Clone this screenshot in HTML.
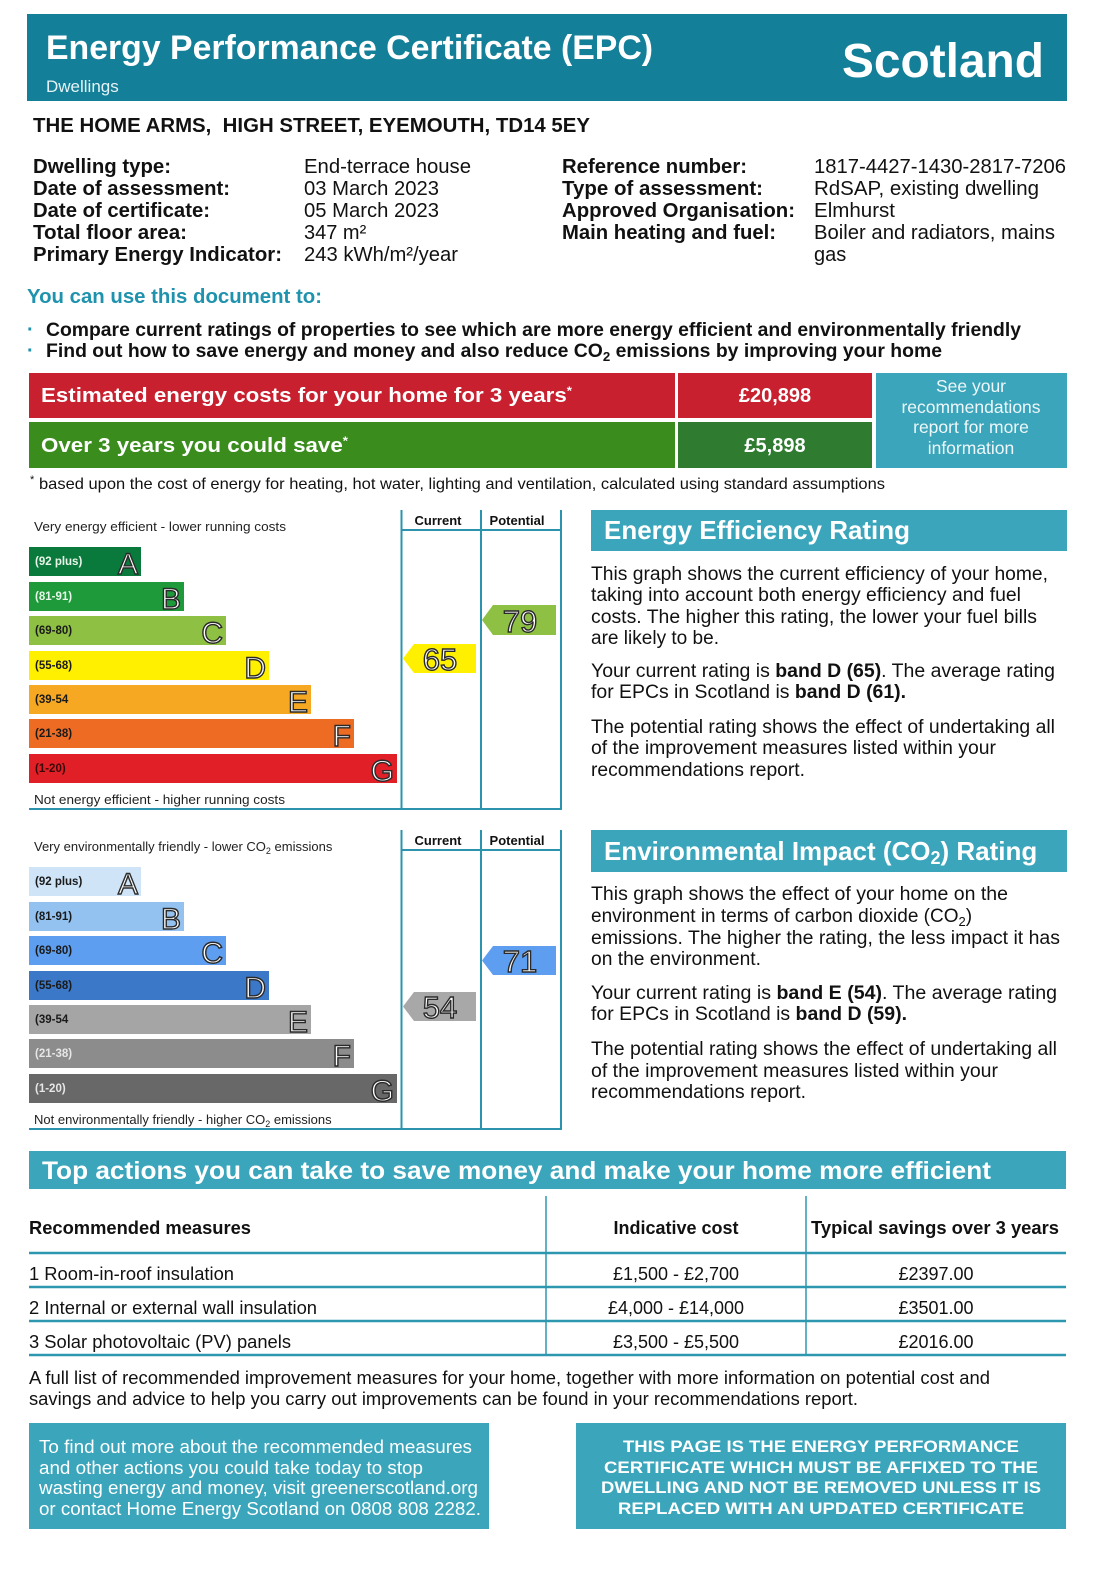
<!DOCTYPE html>
<html><head><meta charset="utf-8"><title>EPC Scotland</title>
<style>
html,body{margin:0;padding:0;background:#fff;}
svg{display:block;}
text{font-family:"Liberation Sans",Arial,Helvetica,sans-serif;}
.b{font-weight:bold;}
.lt{fill:#fff;stroke:#2a2a2a;stroke-width:1.4;}
</style></head><body>
<svg width="1108" height="1571" viewBox="0 0 1108 1571" xmlns="http://www.w3.org/2000/svg">
<rect width="1108" height="1571" fill="#fff"/>

<!-- Header -->
<rect x="27" y="14" width="1040" height="87" fill="#137f98"/>
<text x="46" y="59" font-size="34" class="b" fill="#fff" textLength="607" lengthAdjust="spacingAndGlyphs">Energy Performance Certificate (EPC)</text>
<text x="46" y="92" font-size="17" fill="#e6f3f6">Dwellings</text>
<text x="842" y="77" font-size="48" class="b" fill="#fff" textLength="202" lengthAdjust="spacingAndGlyphs">Scotland</text>

<!-- Address -->
<text x="33" y="132" font-size="20" class="b" fill="#111" textLength="557" lengthAdjust="spacingAndGlyphs">THE HOME ARMS,&#160; HIGH STREET, EYEMOUTH, TD14 5EY</text>

<!-- Details -->
<g font-size="20" fill="#111">
<text x="33" y="173" class="b" textLength="138" lengthAdjust="spacingAndGlyphs">Dwelling type:</text>
<text x="33" y="195" class="b" textLength="197" lengthAdjust="spacingAndGlyphs">Date of assessment:</text>
<text x="33" y="217" class="b" textLength="177" lengthAdjust="spacingAndGlyphs">Date of certificate:</text>
<text x="33" y="239" class="b" textLength="154" lengthAdjust="spacingAndGlyphs">Total floor area:</text>
<text x="33" y="261" class="b" textLength="249" lengthAdjust="spacingAndGlyphs">Primary Energy Indicator:</text>
<text x="304" y="173" textLength="167" lengthAdjust="spacingAndGlyphs">End-terrace house</text>
<text x="304" y="195" textLength="135" lengthAdjust="spacingAndGlyphs">03 March 2023</text>
<text x="304" y="217" textLength="135" lengthAdjust="spacingAndGlyphs">05 March 2023</text>
<text x="304" y="239">347 m²</text>
<text x="304" y="261" textLength="154" lengthAdjust="spacingAndGlyphs">243 kWh/m²/year</text>
<text x="562" y="173" class="b" textLength="185" lengthAdjust="spacingAndGlyphs">Reference number:</text>
<text x="562" y="195" class="b" textLength="201" lengthAdjust="spacingAndGlyphs">Type of assessment:</text>
<text x="562" y="217" class="b" textLength="233" lengthAdjust="spacingAndGlyphs">Approved Organisation:</text>
<text x="562" y="239" class="b" textLength="214" lengthAdjust="spacingAndGlyphs">Main heating and fuel:</text>
<text x="814" y="173" textLength="252" lengthAdjust="spacingAndGlyphs">1817-4427-1430-2817-7206</text>
<text x="814" y="195" textLength="225" lengthAdjust="spacingAndGlyphs">RdSAP, existing dwelling</text>
<text x="814" y="217" textLength="81" lengthAdjust="spacingAndGlyphs">Elmhurst</text>
<text x="814" y="239" textLength="241" lengthAdjust="spacingAndGlyphs">Boiler and radiators, mains</text>
<text x="814" y="261">gas</text>
</g>

<!-- You can use -->
<text x="27" y="303" font-size="20" class="b" fill="#1f93ad" textLength="295" lengthAdjust="spacingAndGlyphs">You can use this document to:</text>
<text x="27" y="336" font-size="20" class="b" fill="#1f93ad">·</text>
<text x="27" y="357" font-size="20" class="b" fill="#1f93ad">·</text>
<text x="46" y="336" font-size="19" class="b" fill="#111" textLength="975" lengthAdjust="spacingAndGlyphs">Compare current ratings of properties to see which are more energy efficient and environmentally friendly</text>
<text x="46" y="357" font-size="19" class="b" fill="#111" textLength="896" lengthAdjust="spacingAndGlyphs">Find out how to save energy and money and also reduce CO<tspan font-size="13" dy="4">2</tspan><tspan dy="-4"> emissions by improving your home</tspan></text>

<!-- Cost boxes -->
<rect x="29" y="373" width="646" height="45" fill="#c8202f"/>
<rect x="678" y="373" width="194" height="45" fill="#c8202f"/>
<rect x="29" y="422" width="646" height="46" fill="#3a8d1d"/>
<rect x="678" y="422" width="194" height="46" fill="#2f7c30"/>
<rect x="876" y="373" width="191" height="95" fill="#3aa5bb"/>
<text x="41" y="402" font-size="20" class="b" fill="#fff" textLength="531" lengthAdjust="spacingAndGlyphs">Estimated energy costs for your home for 3 years<tspan font-size="12" dy="-7">*</tspan></text>
<text x="41" y="452" font-size="20" class="b" fill="#fff" textLength="307" lengthAdjust="spacingAndGlyphs">Over 3 years you could save<tspan font-size="12" dy="-7">*</tspan></text>
<text x="775" y="402" font-size="20" class="b" fill="#fff" text-anchor="middle">£20,898</text>
<text x="775" y="452" font-size="20" class="b" fill="#fff" text-anchor="middle">£5,898</text>
<g font-size="17.5" fill="#eef7f9" text-anchor="middle">
<text x="971" y="392">See your</text>
<text x="971" y="413">recommendations</text>
<text x="971" y="433">report for more</text>
<text x="971" y="454">information</text>
</g>
<text x="30" y="483" font-size="11" fill="#111">*</text>
<text x="39" y="489" font-size="16" fill="#111" textLength="846" lengthAdjust="spacingAndGlyphs">based upon the cost of energy for heating, hot water, lighting and ventilation, calculated using standard assumptions</text>

<!-- ENERGY CHART -->
<g>
<text x="34" y="531" font-size="13" fill="#222" textLength="252" lengthAdjust="spacingAndGlyphs">Very energy efficient - lower running costs</text>
<text x="438" y="525" font-size="13" class="b" fill="#111" text-anchor="middle">Current</text>
<text x="517" y="525" font-size="13" class="b" fill="#111" text-anchor="middle">Potential</text>
<g stroke="#2b93ad" stroke-width="2" fill="none">
<line x1="401.5" y1="510" x2="401.5" y2="809"/>
<line x1="481" y1="510" x2="481" y2="809"/>
<line x1="561" y1="510" x2="561" y2="809"/>
<line x1="401" y1="530" x2="561" y2="530"/>
<line x1="29" y1="809" x2="562" y2="809"/>
</g>
<rect x="29" y="547" width="112" height="29" fill="#0a7a3c"/>
<rect x="29" y="582" width="155" height="29" fill="#1f9a3a"/>
<rect x="29" y="616" width="197" height="29" fill="#8dc043"/>
<rect x="29" y="651" width="240" height="29" fill="#fff000"/>
<rect x="29" y="685" width="282" height="29" fill="#f6a823"/>
<rect x="29" y="719" width="325" height="29" fill="#ee6b24"/>
<rect x="29" y="754" width="368" height="29" fill="#e11f27"/>
<g font-size="11.5" class="b">
<text x="35" y="565" fill="#e8f5ea">(92 plus)</text>
<text x="35" y="600" fill="#e8f5ea">(81-91)</text>
<text x="35" y="634" fill="#1a1a1a">(69-80)</text>
<text x="35" y="669" fill="#1a1a1a">(55-68)</text>
<text x="35" y="703" fill="#1a1a1a">(39-54</text>
<text x="35" y="737" fill="#1a1a1a">(21-38)</text>
<text x="35" y="772" fill="#3a0a0a">(1-20)</text>
</g>
<g font-size="30" class="lt" text-anchor="end">
<text x="138" y="574">A</text>
<text x="181" y="609">B</text>
<text x="223" y="643">C</text>
<text x="266" y="678">D</text>
<text x="308" y="712">E</text>
<text x="351" y="746">F</text>
<text x="394" y="781">G</text>
</g>
<text x="34" y="804" font-size="13" fill="#222" textLength="251" lengthAdjust="spacingAndGlyphs">Not energy efficient - higher running costs</text>
<polygon points="403,658.5 414,644 476,644 476,673 414,673" fill="#fff000"/>
<polygon points="482,620 493,605 556,605 556,635 493,635" fill="#8dc043"/>
<text x="440" y="670" font-size="31" class="lt" text-anchor="middle">65</text>
<text x="520" y="632" font-size="31" class="lt" text-anchor="middle">79</text>
</g>

<!-- ENV CHART -->
<g>
<text x="34" y="851" font-size="13" fill="#222">Very environmentally friendly - lower CO<tspan font-size="9" dy="3">2</tspan><tspan dy="-3"> emissions</tspan></text>
<text x="438" y="845" font-size="13" class="b" fill="#111" text-anchor="middle">Current</text>
<text x="517" y="845" font-size="13" class="b" fill="#111" text-anchor="middle">Potential</text>
<g stroke="#2b93ad" stroke-width="2" fill="none">
<line x1="401.5" y1="830" x2="401.5" y2="1129"/>
<line x1="481" y1="830" x2="481" y2="1129"/>
<line x1="561" y1="830" x2="561" y2="1129"/>
<line x1="401" y1="850" x2="561" y2="850"/>
<line x1="29" y1="1129" x2="562" y2="1129"/>
</g>
<rect x="29" y="867" width="112" height="29" fill="#cfe4f7"/>
<rect x="29" y="902" width="155" height="29" fill="#93c2f0"/>
<rect x="29" y="936" width="197" height="29" fill="#5e9ef0"/>
<rect x="29" y="971" width="240" height="29" fill="#3c78c8"/>
<rect x="29" y="1005" width="282" height="29" fill="#a5a5a5"/>
<rect x="29" y="1039" width="325" height="29" fill="#8c8c8c"/>
<rect x="29" y="1074" width="368" height="29" fill="#686868"/>
<g font-size="11.5" class="b">
<text x="35" y="885" fill="#1a1a1a">(92 plus)</text>
<text x="35" y="920" fill="#1a1a1a">(81-91)</text>
<text x="35" y="954" fill="#1a1a1a">(69-80)</text>
<text x="35" y="989" fill="#1a1a1a">(55-68)</text>
<text x="35" y="1023" fill="#1a1a1a">(39-54</text>
<text x="35" y="1057" fill="#e6e6e6">(21-38)</text>
<text x="35" y="1092" fill="#e6e6e6">(1-20)</text>
</g>
<g font-size="30" class="lt" text-anchor="end">
<text x="138" y="894">A</text>
<text x="181" y="929">B</text>
<text x="223" y="963">C</text>
<text x="266" y="998">D</text>
<text x="308" y="1032">E</text>
<text x="351" y="1066">F</text>
<text x="394" y="1101">G</text>
</g>
<text x="34" y="1124" font-size="13" fill="#222">Not environmentally friendly - higher CO<tspan font-size="9" dy="3">2</tspan><tspan dy="-3"> emissions</tspan></text>
<polygon points="403,1006.5 414,992 476,992 476,1021 414,1021" fill="#a8a8a8"/>
<polygon points="482,960.5 493,946 556,946 556,975 493,975" fill="#5e9ef0"/>
<text x="440" y="1018" font-size="31" class="lt" text-anchor="middle">54</text>
<text x="520" y="972" font-size="31" class="lt" text-anchor="middle">71</text>
</g>

<!-- Energy Efficiency Rating text -->
<rect x="591" y="510" width="476" height="41" fill="#3aa5bb"/>
<text x="604" y="539" font-size="26" class="b" fill="#fff" textLength="306" lengthAdjust="spacingAndGlyphs">Energy Efficiency Rating</text>
<g font-size="19" fill="#111">
<text x="591" y="580" textLength="457" lengthAdjust="spacingAndGlyphs">This graph shows the current efficiency of your home,</text>
<text x="591" y="601" textLength="430" lengthAdjust="spacingAndGlyphs">taking into account both energy efficiency and fuel</text>
<text x="591" y="623" textLength="446" lengthAdjust="spacingAndGlyphs">costs. The higher this rating, the lower your fuel bills</text>
<text x="591" y="644" textLength="128" lengthAdjust="spacingAndGlyphs">are likely to be.</text>
<text x="591" y="677" textLength="464" lengthAdjust="spacingAndGlyphs">Your current rating is <tspan class="b">band D (65)</tspan>. The average rating</text>
<text x="591" y="698" textLength="315" lengthAdjust="spacingAndGlyphs">for EPCs in Scotland is <tspan class="b">band D (61).</tspan></text>
<text x="591" y="733" textLength="464" lengthAdjust="spacingAndGlyphs">The potential rating shows the effect of undertaking all</text>
<text x="591" y="754" textLength="405" lengthAdjust="spacingAndGlyphs">of the improvement measures listed within your</text>
<text x="591" y="776" textLength="214" lengthAdjust="spacingAndGlyphs">recommendations report.</text>
</g>

<!-- Environmental Impact text -->
<rect x="591" y="830" width="476" height="42" fill="#3aa5bb"/>
<text x="604" y="860" font-size="26" class="b" fill="#fff">Environmental Impact (CO<tspan font-size="18" dy="4">2</tspan><tspan dy="-4">) Rating</tspan></text>
<g font-size="19" fill="#111">
<text x="591" y="900" textLength="417" lengthAdjust="spacingAndGlyphs">This graph shows the effect of your home on the</text>
<text x="591" y="922">environment in terms of carbon dioxide (CO<tspan font-size="13" dy="4">2</tspan><tspan dy="-4">)</tspan></text>
<text x="591" y="944" textLength="469" lengthAdjust="spacingAndGlyphs">emissions. The higher the rating, the less impact it has</text>
<text x="591" y="965" textLength="170" lengthAdjust="spacingAndGlyphs">on the environment.</text>
<text x="591" y="999" textLength="466" lengthAdjust="spacingAndGlyphs">Your current rating is <tspan class="b">band E (54)</tspan>. The average rating</text>
<text x="591" y="1020" textLength="316" lengthAdjust="spacingAndGlyphs">for EPCs in Scotland is <tspan class="b">band D (59).</tspan></text>
<text x="591" y="1055" textLength="466" lengthAdjust="spacingAndGlyphs">The potential rating shows the effect of undertaking all</text>
<text x="591" y="1077" textLength="407" lengthAdjust="spacingAndGlyphs">of the improvement measures listed within your</text>
<text x="591" y="1098" textLength="215" lengthAdjust="spacingAndGlyphs">recommendations report.</text>
</g>

<!-- Top actions -->
<rect x="29" y="1151" width="1037" height="38" fill="#3aa5bb"/>
<text x="42" y="1179" font-size="25" class="b" fill="#fff" textLength="949" lengthAdjust="spacingAndGlyphs">Top actions you can take to save money and make your home more efficient</text>

<g stroke="#2e97b0" fill="none">
<line x1="546" y1="1196" x2="546" y2="1355" stroke-width="1.5"/>
<line x1="806" y1="1196" x2="806" y2="1355" stroke-width="1.5"/>
<line x1="29" y1="1253" x2="1066" y2="1253" stroke-width="2.5"/>
<line x1="29" y1="1287" x2="1066" y2="1287" stroke-width="2.5"/>
<line x1="29" y1="1321" x2="1066" y2="1321" stroke-width="2.5"/>
<line x1="29" y1="1355" x2="1066" y2="1355" stroke-width="2.5"/>
</g>
<g font-size="18" fill="#111">
<text x="29" y="1234" class="b" textLength="222" lengthAdjust="spacingAndGlyphs">Recommended measures</text>
<text x="676" y="1234" class="b" text-anchor="middle">Indicative cost</text>
<text x="935" y="1234" class="b" text-anchor="middle" textLength="248" lengthAdjust="spacingAndGlyphs">Typical savings over 3 years</text>
<text x="29" y="1280" textLength="205" lengthAdjust="spacingAndGlyphs">1 Room-in-roof insulation</text>
<text x="29" y="1314" textLength="288" lengthAdjust="spacingAndGlyphs">2 Internal or external wall insulation</text>
<text x="29" y="1348" textLength="262" lengthAdjust="spacingAndGlyphs">3 Solar photovoltaic (PV) panels</text>
<text x="676" y="1280" text-anchor="middle">£1,500 - £2,700</text>
<text x="676" y="1314" text-anchor="middle">£4,000 - £14,000</text>
<text x="676" y="1348" text-anchor="middle">£3,500 - £5,500</text>
<text x="936" y="1280" text-anchor="middle">£2397.00</text>
<text x="936" y="1314" text-anchor="middle">£3501.00</text>
<text x="936" y="1348" text-anchor="middle">£2016.00</text>
</g>

<!-- Paragraph -->
<g font-size="18" fill="#111">
<text x="29" y="1384" textLength="961" lengthAdjust="spacingAndGlyphs">A full list of recommended improvement measures for your home, together with more information on potential cost and</text>
<text x="29" y="1405" textLength="829" lengthAdjust="spacingAndGlyphs">savings and advice to help you carry out improvements can be found in your recommendations report.</text>
</g>

<!-- Footer boxes -->
<rect x="29" y="1423" width="460" height="106" fill="#3aa5bb"/>
<rect x="576" y="1423" width="490" height="106" fill="#3aa5bb"/>
<g font-size="18" fill="#fff">
<text x="39" y="1453" textLength="433" lengthAdjust="spacingAndGlyphs">To find out more about the recommended measures</text>
<text x="39" y="1474" textLength="384" lengthAdjust="spacingAndGlyphs">and other actions you could take today to stop</text>
<text x="39" y="1494" textLength="439" lengthAdjust="spacingAndGlyphs">wasting energy and money, visit greenerscotland.org</text>
<text x="39" y="1515" textLength="442" lengthAdjust="spacingAndGlyphs">or contact Home Energy Scotland on 0808 808 2282.</text>
</g>
<g font-size="17" class="b" fill="#fff" text-anchor="middle">
<text x="821" y="1452" textLength="396" lengthAdjust="spacingAndGlyphs">THIS PAGE IS THE ENERGY PERFORMANCE</text>
<text x="821" y="1473" textLength="434" lengthAdjust="spacingAndGlyphs">CERTIFICATE WHICH MUST BE AFFIXED TO THE</text>
<text x="821" y="1493" textLength="440" lengthAdjust="spacingAndGlyphs">DWELLING AND NOT BE REMOVED UNLESS IT IS</text>
<text x="821" y="1514" textLength="406" lengthAdjust="spacingAndGlyphs">REPLACED WITH AN UPDATED CERTIFICATE</text>
</g>
</svg>
</body></html>
